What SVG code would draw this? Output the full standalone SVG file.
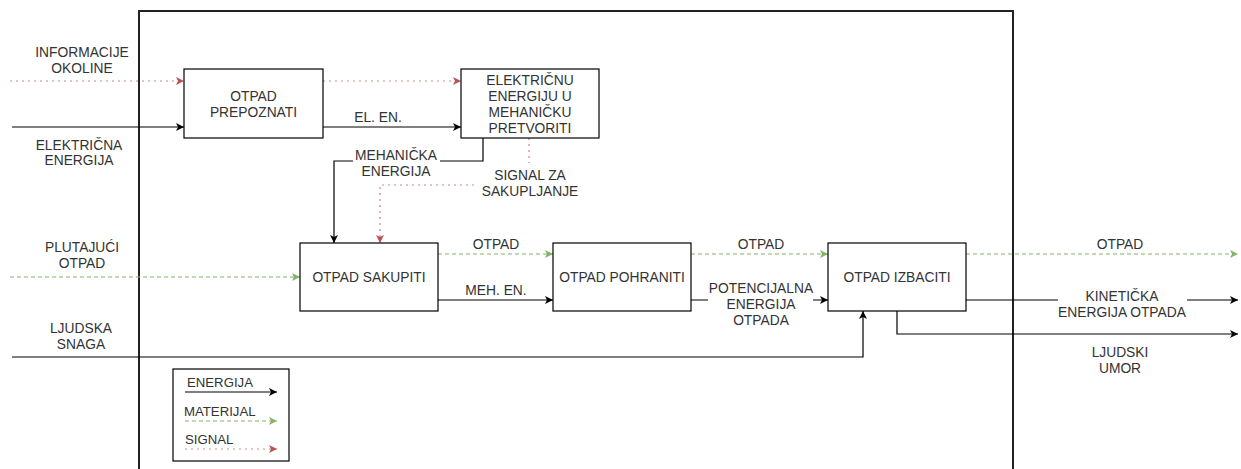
<svg xmlns="http://www.w3.org/2000/svg" width="1241" height="469" viewBox="0 0 1241 469">
<style>
text{font-family:"Liberation Sans",Arial,Helvetica,sans-serif;font-size:13.8px;fill:#333;text-anchor:middle}
.leg text{font-size:13.2px;text-anchor:start}
.box{fill:#fff;stroke:#000;stroke-width:1.2}
.e{fill:none;stroke:#000;stroke-width:1.2}
.m{fill:none;stroke:#82b366;stroke-width:1.2;stroke-dasharray:4 3}
.s{fill:none;stroke:#b85450;stroke-opacity:0.7;stroke-width:1.2;stroke-dasharray:2 4}
.bg{fill:#fff}
</style>
<defs>
<marker id="ae" markerUnits="userSpaceOnUse" markerWidth="10" markerHeight="10" refX="9" refY="5" orient="auto"><path d="M1,1 L9,5 L1,9 L3,5 Z" fill="#000"/></marker>
<marker id="am" markerUnits="userSpaceOnUse" markerWidth="10" markerHeight="10" refX="9" refY="5" orient="auto"><path d="M1,1 L9,5 L1,9 L3,5 Z" fill="#82b366"/></marker>
<marker id="as" markerUnits="userSpaceOnUse" markerWidth="10" markerHeight="10" refX="9" refY="5" orient="auto"><path d="M1,1 L9,5 L1,9 L3,5 Z" fill="#b85450"/></marker>
</defs>
<rect width="1241" height="469" fill="#fff"/>
<g id="system-boundary"><path d="M139,480 V11 H1013 V480" fill="none" stroke="#222" stroke-width="2"/></g>
<g id="connectors">
<path class="s" d="M10,81 H184" marker-end="url(#as)"/>
<path class="e" d="M12,127 H184" marker-end="url(#ae)"/>
<path class="s" d="M323,81 H461" marker-end="url(#as)"/>
<path class="e" d="M323,127 H461" marker-end="url(#ae)"/>
<path class="e" d="M483,138 V161 H334 V243" marker-end="url(#ae)"/>
<path class="s" d="M529,138 V185 H380 V243" marker-end="url(#as)"/>
<path class="m" d="M10,277 H300" marker-end="url(#am)"/>
<path class="e" d="M12,357 H863 V311" marker-end="url(#ae)"/>
<path class="m" d="M438,254 H553" marker-end="url(#am)"/>
<path class="e" d="M438,300 H553" marker-end="url(#ae)"/>
<path class="m" d="M691,254 H828" marker-end="url(#am)"/>
<path class="e" d="M691,300 H828" marker-end="url(#ae)"/>
<path class="m" d="M966,254 H1238" marker-end="url(#am)"/>
<path class="e" d="M966,300 H1238" marker-end="url(#ae)"/>
<path class="e" d="M897,311 V334 H1238" marker-end="url(#ae)"/>
<rect class="bg" x="353" y="147" width="87" height="34"/>
<rect class="bg" x="477" y="163" width="106" height="37"/>
<rect class="bg" x="708" y="280" width="105" height="48"/>
<rect class="bg" x="1058" y="286" width="129" height="34"/>
<text x="378" y="122">EL. EN.</text>
<text x="396" y="160">MEHANIČKA</text>
<text x="396" y="176">ENERGIJA</text>
<text x="530" y="180">SIGNAL ZA</text>
<text x="530" y="196">SAKUPLJANJE</text>
<text x="496" y="249">OTPAD</text>
<text x="496" y="295">MEH. EN.</text>
<text x="761" y="249">OTPAD</text>
<text x="761" y="293">POTENCIJALNA</text>
<text x="761" y="309">ENERGIJA</text>
<text x="761" y="325">OTPADA</text>
<text x="1120" y="249">OTPAD</text>
<text x="1122" y="301">KINETIČKA</text>
<text x="1122" y="317">ENERGIJA OTPADA</text>
<text x="1120" y="357">LJUDSKI</text>
<text x="1120" y="373">UMOR</text>
<text x="82" y="57">INFORMACIJE</text>
<text x="82" y="73">OKOLINE</text>
<text x="79" y="150">ELEKTRIČNA</text>
<text x="79" y="165">ENERGIJA</text>
<text x="82" y="252">PLUTAJUĆI</text>
<text x="82" y="268">OTPAD</text>
<text x="81" y="333">LJUDSKA</text>
<text x="81" y="349">SNAGA</text>
</g>
<g id="otpad-prepoznati"><rect class="box" x="184" y="69" width="139" height="69"/><text x="253.5" y="101">OTPAD</text><text x="253.5" y="117">PREPOZNATI</text></g>
<g id="energija-pretvoriti"><rect class="box" x="461" y="69" width="138" height="69"/><text x="530" y="85">ELEKTRIČNU</text><text x="530" y="101">ENERGIJU U</text><text x="530" y="117">MEHANIČKU</text><text x="530" y="133">PRETVORITI</text></g>
<g id="otpad-sakupiti"><rect class="box" x="300" y="243" width="138" height="68"/><text x="369" y="282">OTPAD SAKUPITI</text></g>
<g id="otpad-pohraniti"><rect class="box" x="553" y="243" width="138" height="68"/><text x="622" y="282">OTPAD POHRANITI</text></g>
<g id="otpad-izbaciti"><rect class="box" x="828" y="243" width="138" height="68"/><text x="897" y="282">OTPAD IZBACITI</text></g>
<g id="legend" class="leg">
<rect class="box" x="173" y="369" width="116" height="92"/>
<text x="187" y="387">ENERGIJA</text>
<path class="e" d="M185,392 H277" marker-end="url(#ae)"/>
<text x="184" y="416">MATERIJAL</text>
<path class="m" d="M185,421 H277" marker-end="url(#am)"/>
<text x="185" y="444">SIGNAL</text>
<path class="s" d="M185,449 H277" marker-end="url(#as)"/>
</g>
</svg>
